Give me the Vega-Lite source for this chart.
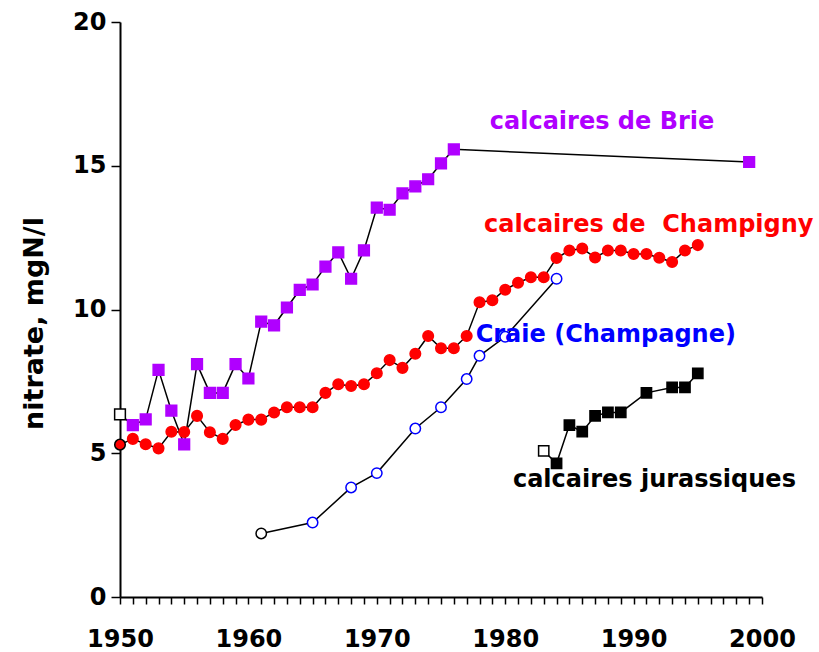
{
  "$schema": "https://vega.github.io/schema/vega-lite/v6.json",
  "width": 642,
  "height": 575,
  "autosize": {"type": "none"},
  "padding": {"left": 120, "top": 22, "right": 57, "bottom": 55},
  "background": "white",
  "config": {
    "view": {"stroke": null},
    "axis": {
      "labelFont": "DejaVu Sans",
      "labelFontWeight": "bold",
      "labelFontSize": 24,
      "labelColor": "black",
      "titleFont": "DejaVu Sans",
      "titleFontWeight": "bold",
      "titleColor": "black",
      "domainColor": "black",
      "domainWidth": 2,
      "tickColor": "black",
      "tickWidth": 1.5,
      "grid": false
    }
  },
  "data": {
    "values": [
      {"s": "Brie", "year": 1950, "v": 6.35, "early": true},
      {"s": "Brie", "year": 1951, "v": 5.98, "early": false},
      {"s": "Brie", "year": 1952, "v": 6.18, "early": false},
      {"s": "Brie", "year": 1953, "v": 7.9, "early": false},
      {"s": "Brie", "year": 1954, "v": 6.48, "early": false},
      {"s": "Brie", "year": 1955, "v": 5.31, "early": false},
      {"s": "Brie", "year": 1956, "v": 8.1, "early": false},
      {"s": "Brie", "year": 1957, "v": 7.1, "early": false},
      {"s": "Brie", "year": 1958, "v": 7.1, "early": false},
      {"s": "Brie", "year": 1959, "v": 8.1, "early": false},
      {"s": "Brie", "year": 1960, "v": 7.6, "early": false},
      {"s": "Brie", "year": 1961, "v": 9.58, "early": false},
      {"s": "Brie", "year": 1962, "v": 9.45, "early": false},
      {"s": "Brie", "year": 1963, "v": 10.07, "early": false},
      {"s": "Brie", "year": 1964, "v": 10.68, "early": false},
      {"s": "Brie", "year": 1965, "v": 10.87, "early": false},
      {"s": "Brie", "year": 1966, "v": 11.49, "early": false},
      {"s": "Brie", "year": 1967, "v": 11.99, "early": false},
      {"s": "Brie", "year": 1968, "v": 11.07, "early": false},
      {"s": "Brie", "year": 1969, "v": 12.06, "early": false},
      {"s": "Brie", "year": 1970, "v": 13.54, "early": false},
      {"s": "Brie", "year": 1971, "v": 13.47, "early": false},
      {"s": "Brie", "year": 1972, "v": 14.04, "early": false},
      {"s": "Brie", "year": 1973, "v": 14.28, "early": false},
      {"s": "Brie", "year": 1974, "v": 14.53, "early": false},
      {"s": "Brie", "year": 1975, "v": 15.08, "early": false},
      {"s": "Brie", "year": 1976, "v": 15.57, "early": false},
      {"s": "Brie", "year": 1999, "v": 15.13, "early": false},
      {"s": "Champigny", "year": 1950, "v": 5.3, "early": true},
      {"s": "Champigny", "year": 1951, "v": 5.5, "early": false},
      {"s": "Champigny", "year": 1952, "v": 5.31, "early": false},
      {"s": "Champigny", "year": 1953, "v": 5.17, "early": false},
      {"s": "Champigny", "year": 1954, "v": 5.75, "early": false},
      {"s": "Champigny", "year": 1955, "v": 5.74, "early": false},
      {"s": "Champigny", "year": 1956, "v": 6.3, "early": false},
      {"s": "Champigny", "year": 1957, "v": 5.73, "early": false},
      {"s": "Champigny", "year": 1958, "v": 5.5, "early": false},
      {"s": "Champigny", "year": 1959, "v": 5.98, "early": false},
      {"s": "Champigny", "year": 1960, "v": 6.17, "early": false},
      {"s": "Champigny", "year": 1961, "v": 6.17, "early": false},
      {"s": "Champigny", "year": 1962, "v": 6.42, "early": false},
      {"s": "Champigny", "year": 1963, "v": 6.6, "early": false},
      {"s": "Champigny", "year": 1964, "v": 6.6, "early": false},
      {"s": "Champigny", "year": 1965, "v": 6.6, "early": false},
      {"s": "Champigny", "year": 1966, "v": 7.1, "early": false},
      {"s": "Champigny", "year": 1967, "v": 7.4, "early": false},
      {"s": "Champigny", "year": 1968, "v": 7.34, "early": false},
      {"s": "Champigny", "year": 1969, "v": 7.4, "early": false},
      {"s": "Champigny", "year": 1970, "v": 7.78, "early": false},
      {"s": "Champigny", "year": 1971, "v": 8.24, "early": false},
      {"s": "Champigny", "year": 1972, "v": 7.97, "early": false},
      {"s": "Champigny", "year": 1973, "v": 8.46, "early": false},
      {"s": "Champigny", "year": 1974, "v": 9.08, "early": false},
      {"s": "Champigny", "year": 1975, "v": 8.65, "early": false},
      {"s": "Champigny", "year": 1976, "v": 8.65, "early": false},
      {"s": "Champigny", "year": 1977, "v": 9.08, "early": false},
      {"s": "Champigny", "year": 1978, "v": 10.25, "early": false},
      {"s": "Champigny", "year": 1979, "v": 10.32, "early": false},
      {"s": "Champigny", "year": 1980, "v": 10.69, "early": false},
      {"s": "Champigny", "year": 1981, "v": 10.93, "early": false},
      {"s": "Champigny", "year": 1982, "v": 11.12, "early": false},
      {"s": "Champigny", "year": 1983, "v": 11.12, "early": false},
      {"s": "Champigny", "year": 1984, "v": 11.79, "early": false},
      {"s": "Champigny", "year": 1985, "v": 12.05, "early": false},
      {"s": "Champigny", "year": 1986, "v": 12.12, "early": false},
      {"s": "Champigny", "year": 1987, "v": 11.81, "early": false},
      {"s": "Champigny", "year": 1988, "v": 12.05, "early": false},
      {"s": "Champigny", "year": 1989, "v": 12.05, "early": false},
      {"s": "Champigny", "year": 1990, "v": 11.93, "early": false},
      {"s": "Champigny", "year": 1991, "v": 11.93, "early": false},
      {"s": "Champigny", "year": 1992, "v": 11.8, "early": false},
      {"s": "Champigny", "year": 1993, "v": 11.65, "early": false},
      {"s": "Champigny", "year": 1994, "v": 12.05, "early": false},
      {"s": "Champigny", "year": 1995, "v": 12.24, "early": false},
      {"s": "Craie", "year": 1961, "v": 2.21, "early": true},
      {"s": "Craie", "year": 1965, "v": 2.59, "early": false},
      {"s": "Craie", "year": 1968, "v": 3.81, "early": false},
      {"s": "Craie", "year": 1970, "v": 4.31, "early": false},
      {"s": "Craie", "year": 1973, "v": 5.86, "early": false},
      {"s": "Craie", "year": 1975, "v": 6.6, "early": false},
      {"s": "Craie", "year": 1977, "v": 7.58, "early": false},
      {"s": "Craie", "year": 1978, "v": 8.39, "early": false},
      {"s": "Craie", "year": 1980, "v": 9.05, "early": false},
      {"s": "Craie", "year": 1984, "v": 11.07, "early": false},
      {"s": "Jurassiques", "year": 1983, "v": 5.08, "early": true},
      {"s": "Jurassiques", "year": 1984, "v": 4.65, "early": false},
      {"s": "Jurassiques", "year": 1985, "v": 5.98, "early": false},
      {"s": "Jurassiques", "year": 1986, "v": 5.75, "early": false},
      {"s": "Jurassiques", "year": 1987, "v": 6.3, "early": false},
      {"s": "Jurassiques", "year": 1988, "v": 6.42, "early": false},
      {"s": "Jurassiques", "year": 1989, "v": 6.42, "early": false},
      {"s": "Jurassiques", "year": 1991, "v": 7.1, "early": false},
      {"s": "Jurassiques", "year": 1993, "v": 7.29, "early": false},
      {"s": "Jurassiques", "year": 1994, "v": 7.29, "early": false},
      {"s": "Jurassiques", "year": 1995, "v": 7.78, "early": false}
    ]
  },
  "encoding": {
    "x": {
      "field": "year", "type": "quantitative",
      "scale": {"domain": [1950, 2000], "nice": false, "zero": false},
      "axis": {
        "title": null,
        "values": [1950,1951,1952,1953,1954,1955,1956,1957,1958,1959,1960,1961,1962,1963,1964,1965,1966,1967,1968,1969,1970,1971,1972,1973,1974,1975,1976,1977,1978,1979,1980,1981,1982,1983,1984,1985,1986,1987,1988,1989,1990,1991,1992,1993,1994,1995,1996,1997,1998,1999,2000],
        "labelExpr": "datum.value % 10 == 0 ? datum.value : ''",
        "labelFlush": false,
        "labelOverlap": false,
        "tickSize": 7,
        "labelPadding": 23,
        "labelBaseline": "top"
      }
    },
    "y": {
      "field": "v", "type": "quantitative",
      "scale": {"domain": [0, 20], "nice": false},
      "axis": {
        "title": "nitrate, mgN/l",
        "titleFontSize": 27,
        "titleAngle": -90,
        "titleX": -78,
        "titleY": 301,
        "titleAlign": "center",
        "titleBaseline": "alphabetic",
        "values": [0, 5, 10, 15, 20],
        "tickSize": 9,
        "labelPadding": 5
      }
    }
  },
  "layer": [
    {
      "mark": {"type": "line", "color": "black", "strokeWidth": 1.5},
      "encoding": {"detail": {"field": "s"}}
    },
    {
      "mark": {"type": "point", "filled": false, "strokeWidth": 1.5, "opacity": 1},
      "encoding": {
        "shape": {"field": "s", "type": "nominal", "scale": {"domain": ["Brie", "Champigny", "Craie", "Jurassiques"], "range": ["square", "circle", "circle", "square"]}, "legend": null},
        "size": {"field": "s", "type": "nominal", "scale": {"domain": ["Brie", "Champigny", "Craie", "Jurassiques"], "range": [115, 105, 72, 110]}, "legend": null},
        "fill": {
          "condition": {"test": "datum.early && datum.s !== 'Champigny'", "value": "white"},
          "field": "s", "type": "nominal",
          "scale": {"domain": ["Brie", "Champigny", "Craie", "Jurassiques"], "range": ["#B000FF", "#FF0000", "#FFFFFF", "#000000"]},
          "legend": null
        },
        "stroke": {
          "condition": {"test": "datum.early", "value": "black"},
          "field": "s", "type": "nominal",
          "scale": {"domain": ["Brie", "Champigny", "Craie", "Jurassiques"], "range": ["#B000FF", "#FF0000", "#0000FF", "#000000"]},
          "legend": null
        }
      }
    },
    {
      "data": {
        "values": [
          {"s": "Brie", "label": "calcaires de Brie", "year": 1978.8, "v": 16.28},
          {"s": "Champigny", "label": "calcaires de \u00a0Champigny", "year": 1978.35, "v": 12.71},
          {"s": "Craie", "label": "Craie (Champagne)", "year": 1977.7, "v": 8.88},
          {"s": "Jurassiques", "label": "calcaires jurassiques", "year": 1980.6, "v": 3.84}
        ]
      },
      "mark": {"type": "text", "align": "left", "baseline": "alphabetic", "font": "DejaVu Sans", "fontWeight": "bold", "fontSize": 24},
      "encoding": {
        "text": {"field": "label"},
        "color": {"field": "s", "type": "nominal", "scale": {"domain": ["Brie", "Champigny", "Craie", "Jurassiques"], "range": ["#B000FF", "#FF0000", "#0000FF", "#000000"]}, "legend": null}
      }
    }
  ],
  "resolve": {"scale": {"color": "independent", "fill": "independent", "stroke": "independent"}}
}
